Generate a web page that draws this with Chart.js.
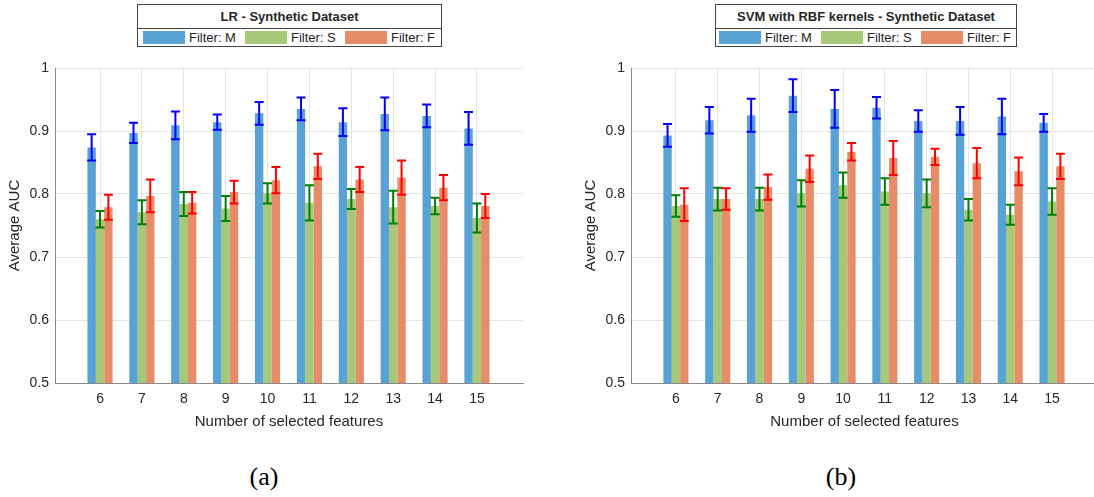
<!DOCTYPE html>
<html>
<head>
<meta charset="utf-8">
<script src="https://cdn.jsdelivr.net/npm/chart.js@4.4.1/dist/chart.umd.min.js"></script>
<style>
  html, body { margin:0; padding:0; background:#fff; overflow:hidden; }
  body { width:1094px; height:497px; position:relative; font-family:"Liberation Sans", Arial, sans-serif; }
  .wrap { position:absolute; top:0; height:440px; }
  .legend { position:absolute; top:4px; height:43px; border:1px solid #444; background:#fff; color:#262626; font-size:13px; box-sizing:border-box; }
  .legend .ttl { position:absolute; left:0; right:0; top:0; height:23px; line-height:23px; text-align:center; font-weight:bold; border-bottom:1px solid #444; }
  .legend .sw { position:absolute; top:26px; width:42px; height:13px; }
  .legend .lb { position:absolute; top:24px; line-height:17px; }
  .cap { position:absolute; top:462px; font-family:"Liberation Serif", "Times New Roman", serif; font-size:26px; color:#000; transform:translateX(-50%); }
</style>
</head>
<body>
<div class="wrap" style="left:0;width:547px"><canvas id="lrChart"></canvas></div>
<div class="wrap" style="left:547px;width:560px"><canvas id="svmChart"></canvas></div>

<div class="legend" id="lrLegend" style="left:137px;width:305px"></div>
<div class="legend" id="svmLegend" style="left:715px;width:302px"></div>

<div class="cap" style="left:264px">(a)</div>
<div class="cap" style="left:841px">(b)</div>

<script>
// categories / ticks
const features = [6, 7, 8, 9, 10, 11, 12, 13, 14, 15];
const yTicks = [0.5, 0.6, 0.7, 0.8, 0.9, 1];
const filterNames = ['Filter: M', 'Filter: S', 'Filter: F'];

// LR - Synthetic Dataset
const lrM    = [0.874, 0.897, 0.909, 0.914, 0.928, 0.935, 0.914, 0.927, 0.924, 0.904];
const lrMErr = [0.021, 0.016, 0.022, 0.012, 0.018, 0.018, 0.022, 0.026, 0.018, 0.026];
const lrS    = [0.760, 0.771, 0.784, 0.777, 0.801, 0.786, 0.792, 0.779, 0.781, 0.762];
const lrSErr = [0.013, 0.019, 0.019, 0.020, 0.016, 0.028, 0.016, 0.026, 0.013, 0.023];
const lrF    = [0.779, 0.797, 0.786, 0.803, 0.822, 0.844, 0.823, 0.826, 0.810, 0.781];
const lrFErr = [0.020, 0.026, 0.017, 0.018, 0.021, 0.020, 0.020, 0.027, 0.020, 0.019];

// SVM with RBF kernels - Synthetic Dataset
const svmM    = [0.893, 0.917, 0.925, 0.956, 0.935, 0.937, 0.916, 0.916, 0.923, 0.913];
const svmMErr = [0.018, 0.021, 0.026, 0.026, 0.030, 0.017, 0.017, 0.022, 0.028, 0.014];
const svmS    = [0.781, 0.792, 0.792, 0.801, 0.814, 0.804, 0.801, 0.775, 0.767, 0.788];
const svmSErr = [0.017, 0.018, 0.018, 0.021, 0.020, 0.021, 0.022, 0.017, 0.016, 0.021];
const svmF    = [0.783, 0.792, 0.811, 0.840, 0.867, 0.857, 0.859, 0.849, 0.836, 0.844];
const svmFErr = [0.026, 0.017, 0.020, 0.021, 0.014, 0.027, 0.013, 0.024, 0.022, 0.020];

const barColors = ['#58a2d4', '#a5c979', '#e78c69'];
const errColors = ['#0000ff', '#008000', '#ff0000'];
const txt = '#262626';
const font = { family: '"Liberation Sans", Arial, sans-serif', size: 14 };

// error bars drawn with the chart's own scales
const errorBars = {
  id: 'errorBars',
  afterDatasetsDraw(chart) {
    const ctx = chart.ctx, y = chart.scales.y;
    chart.data.datasets.forEach((ds, i) => {
      const meta = chart.getDatasetMeta(i);
      ctx.save();
      ctx.strokeStyle = ds.errColor;
      ctx.lineWidth = 2;
      meta.data.forEach((bar, j) => {
        const v = ds.data[j].y, e = ds.errors[j];
        const top = y.getPixelForValue(v + e), bot = y.getPixelForValue(v - e);
        ctx.beginPath();
        ctx.moveTo(bar.x, top); ctx.lineTo(bar.x, bot);
        ctx.moveTo(bar.x - 4.5, top); ctx.lineTo(bar.x + 4.5, top);
        ctx.moveTo(bar.x - 4.5, bot); ctx.lineTo(bar.x + 4.5, bot);
        ctx.stroke();
      });
      ctx.restore();
    });
  }
};

function makeChart(id, series, errs, padLeft, padRight) {
  const ctx = document.getElementById(id).getContext('2d');
  return new Chart(ctx, {
    type: 'bar',
    data: {
      datasets: series.map((s, i) => ({
        label: filterNames[i],
        data: features.map((f, j) => ({ x: f, y: s[j] })),
        errors: errs[i],
        errColor: errColors[i],
        backgroundColor: barColors[i],
        borderWidth: 0,
        categoryPercentage: 0.6,
        barPercentage: 1.0
      }))
    },
    options: {
      responsive: true,
      maintainAspectRatio: false,
      animation: false,
      layout: { padding: { top: 68, left: padLeft, right: padRight, bottom: 0 } },
      plugins: { legend: { display: false }, tooltip: { enabled: false } },
      scales: {
        x: {
          type: 'linear', min: 4.925, max: 16.1, offset: false,
          afterFit: s => { s.height = 57; },
          ticks: {
            stepSize: 1, includeBounds: false, autoSkip: false, maxRotation: 0,
            color: txt, font, padding: 8,
            callback: v => features.includes(v) ? String(v) : ''
          },
          grid: { color: c => features.includes(c.tick && c.tick.value) ? '#e5e5e5' : 'rgba(0,0,0,0)', drawTicks: false, offset: false },
          border: { color: '#8a8a8a', width: 1 },
          title: { display: true, text: 'Number of selected features', color: txt, font: { ...font, size: 15 }, padding: { top: 0, bottom: 9 } }
        },
        y: {
          min: yTicks[0], max: yTicks[yTicks.length - 1],
          afterFit: s => { s.width = 49; },
          afterBuildTicks: s => { s.ticks = yTicks.map(v => ({ value: v })); },
          ticks: { color: txt, font, padding: 6, callback: v => String(v) },
          grid: { color: '#e5e5e5', drawTicks: false },
          border: { color: '#8a8a8a', width: 1 },
          title: { display: true, text: 'Average AUC', color: txt, font: { ...font, size: 15 }, padding: { top: 0, bottom: 0 } }
        }
      }
    },
    plugins: [errorBars]
  });
}

makeChart('lrChart', [lrM, lrS, lrF], [lrMErr, lrSErr, lrFErr], 6, 24);
makeChart('svmChart', [svmM, svmS, svmF], [svmMErr, svmSErr, svmFErr], 35, 9);

// legend boxes
function makeLegend(id, title, swatchX) {
  const box = document.getElementById(id);
  const t = document.createElement('div');
  t.className = 'ttl'; t.textContent = title; box.appendChild(t);
  filterNames.forEach((n, i) => {
    const sw = document.createElement('div');
    sw.className = 'sw'; sw.style.left = swatchX[i] + 'px'; sw.style.background = barColors[i];
    const lb = document.createElement('div');
    lb.className = 'lb'; lb.style.left = (swatchX[i] + 46) + 'px'; lb.textContent = n;
    box.appendChild(sw); box.appendChild(lb);
  });
}
makeLegend('lrLegend', 'LR - Synthetic Dataset', [5, 107, 207]);
makeLegend('svmLegend', 'SVM with RBF kernels - Synthetic Dataset', [3, 105, 205]);
</script>
</body>
</html>
